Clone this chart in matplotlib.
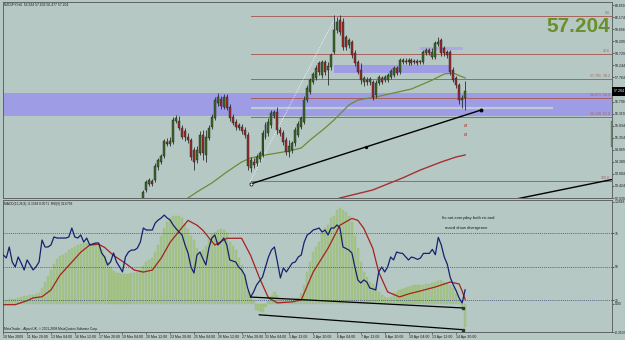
import numpy as np
import matplotlib
matplotlib.use("Agg")
import matplotlib.pyplot as plt
from matplotlib.patches import Rectangle

# ---------------- data ----------------
title_text = "NZDJPY,H4  56.934 57.636 56.477 57.204"
last_price = 57.204

candle_bars = list(range(47, 156))
opens = [52.86, 53.26, 53.50, 53.62, 53.66, 54.18, 54.38, 54.62, 55.18, 55.10,
         55.18, 56.02, 56.02, 55.74, 55.62, 55.38, 55.26, 54.86, 54.46, 54.74,
         55.46, 54.66, 55.34, 55.78, 56.14, 56.74, 56.90, 56.58, 56.98, 56.58,
         56.18, 55.98, 55.86, 55.78, 55.66, 55.46, 54.14, 54.38, 54.34, 54.50,
         54.66, 55.38, 55.54, 55.86, 56.22, 56.38, 55.66, 55.54, 55.26, 54.78,
         54.86, 55.14, 55.46, 55.78, 55.98, 56.86, 57.18, 57.58, 57.74, 58.34,
         57.86, 58.38, 58.06, 58.18, 58.78, 59.66, 60.06, 59.98, 59.38, 59.06,
         59.18, 58.74, 58.38, 58.06, 57.58, 57.66, 57.58, 57.58, 57.06, 57.54,
         57.74, 57.66, 57.66, 57.78, 57.86, 58.14, 57.98, 58.46, 58.42, 58.38,
         58.46, 58.38, 58.42, 58.38, 58.38, 58.74, 58.86, 58.58, 58.58, 59.10,
         59.26, 58.94, 58.78, 58.78, 58.06, 57.74, 57.46, 56.86, 56.934]
highs = [53.26, 53.66, 53.74, 53.70, 54.34, 54.54, 54.70, 55.30, 55.34, 55.38,
         56.18, 56.26, 56.22, 55.86, 55.74, 55.54, 55.34, 54.98, 55.02, 55.62,
         55.66, 55.66, 55.86, 56.30, 56.98, 57.14, 57.02, 57.10, 57.10, 56.70,
         56.30, 56.10, 55.94, 55.90, 55.78, 55.58, 54.58, 54.54, 54.70, 54.82,
         55.66, 55.98, 56.14, 56.46, 56.46, 56.58, 55.78, 55.66, 55.38, 55.26,
         55.22, 55.78, 56.02, 56.22, 57.02, 57.46, 57.74, 57.98, 58.26, 58.42,
         58.46, 58.46, 58.38, 58.74, 60.26, 60.18, 60.26, 60.14, 59.46, 59.34,
         59.26, 58.86, 58.46, 58.34, 57.82, 57.78, 57.78, 57.66, 57.66, 57.86,
         57.82, 57.86, 57.94, 58.10, 58.22, 58.22, 58.54, 58.54, 58.54, 58.54,
         58.54, 58.50, 58.50, 58.46, 58.86, 58.94, 58.94, 58.94, 59.22, 59.38,
         59.34, 59.02, 58.86, 58.86, 58.18, 57.82, 57.54, 57.06, 57.636]
lows = [52.74, 53.18, 53.42, 53.42, 53.58, 54.06, 54.30, 54.54, 55.02, 55.02,
        55.10, 55.94, 55.66, 55.30, 55.22, 55.14, 54.46, 54.06, 54.34, 54.66,
        54.46, 54.38, 55.26, 55.70, 56.06, 56.62, 56.50, 56.50, 56.46, 56.02,
        55.86, 55.66, 55.66, 55.50, 55.34, 54.06, 53.98, 54.14, 54.22, 54.38,
        54.58, 55.30, 55.42, 55.74, 56.14, 55.50, 55.42, 55.06, 54.66, 54.58,
        54.74, 55.02, 55.38, 55.70, 55.90, 56.78, 57.10, 57.50, 57.66, 57.86,
        57.74, 57.86, 57.46, 58.06, 58.70, 59.54, 59.46, 58.86, 58.86, 58.94,
        58.54, 58.22, 57.90, 57.50, 57.42, 57.46, 57.46, 56.86, 56.94, 57.46,
        57.50, 57.58, 57.58, 57.70, 57.78, 57.86, 57.90, 58.30, 58.30, 58.26,
        58.26, 58.30, 58.26, 58.30, 58.30, 58.66, 58.66, 58.50, 58.50, 59.02,
        58.62, 58.62, 58.54, 57.86, 57.58, 57.34, 56.70, 56.54, 56.477]
closes = [53.18, 53.58, 53.66, 53.50, 54.22, 54.46, 54.62, 55.22, 55.10, 55.22,
          56.06, 56.14, 55.74, 55.38, 55.38, 55.26, 54.58, 54.38, 54.86, 55.46,
          54.74, 55.38, 55.74, 56.18, 56.86, 56.98, 56.62, 56.98, 56.54, 56.14,
          55.94, 55.78, 55.74, 55.62, 55.46, 54.22, 54.46, 54.26, 54.58, 54.74,
          55.54, 55.86, 55.98, 56.34, 56.38, 55.66, 55.54, 55.18, 54.78, 55.02,
          55.14, 55.66, 55.90, 56.14, 56.86, 57.34, 57.66, 57.90, 58.14, 57.98,
          58.38, 57.98, 58.22, 58.66, 59.66, 59.98, 59.58, 58.98, 58.98, 59.26,
          58.66, 58.34, 57.98, 57.66, 57.74, 57.58, 57.70, 56.98, 57.54, 57.78,
          57.58, 57.78, 57.86, 58.02, 58.14, 57.94, 58.46, 58.38, 58.38, 58.46,
          58.34, 58.42, 58.34, 58.42, 58.78, 58.86, 58.74, 58.78, 59.14, 59.18,
          58.74, 58.74, 58.66, 57.98, 57.66, 57.46, 56.86, 56.94, 57.204]

ma_mid_bars = [55, 61, 65, 70, 75, 80, 83, 88, 96, 100, 103, 108, 111, 116, 119,
               125, 131, 137, 144, 148, 151, 155]
ma_mid_vals = [52.60, 52.86, 53.18, 53.54, 53.98, 54.38, 54.54, 54.66, 54.82, 54.94,
               55.26, 55.74, 56.06, 56.66, 56.86, 56.98, 57.14, 57.30, 57.66, 57.90,
               57.94, 57.74]
ma_long_bars = [110, 113, 124, 134, 140, 147, 152, 155]
ma_long_vals = [52.80, 52.94, 53.26, 53.74, 54.06, 54.38, 54.58, 54.66]

price_ticks = [60.659, 60.174, 59.694, 59.209, 58.729, 58.244, 57.764,
               56.799, 56.319, 55.834, 55.354, 54.869, 54.389, 53.904, 53.424, 52.939]

fib_levels = [60.22, 58.70, 57.70, 56.94, 56.18, 53.62]
fib_labels = ["0.0", "23.6", "57.791  38.2", "56.871  50.0", "56.190  61.8", "100.0"]
fib_anchor_bars = [83, 111.7]
fib_anchor_prices = [53.62, 60.22]

zone_main = (56.22, 57.14)
zone_a_bars, zone_a_prices = (111, 150), (57.94, 58.26)
zone_b_bars, zone_b_prices = (140, 154.4), (58.86, 58.98)
zone_line_bars, zone_line_price = (83, 184.6), 56.54

trend_a_bars, trend_a_prices = [83, 160.4], [53.50, 56.46]
trend_a_mid = (121.8, 54.98)
trend_b_bars, trend_b_prices = [170.5, 206], [52.86, 53.72]
signal_marks_bar, signal_marks_prices = 155, [55.86, 55.50]

hist = [0.05, 0.05, 0.06, 0.06, 0.06, 0.08, 0.09, 0.10, 0.10, 0.11,
        0.11, 0.12, 0.14, 0.20, 0.28, 0.35, 0.43, 0.50, 0.56, 0.60,
        0.62, 0.64, 0.68, 0.70, 0.71, 0.74, 0.75, 0.76, 0.76, 0.76,
        0.76, 0.75, 0.73, 0.68, 0.60, 0.53, 0.46, 0.41, 0.39, 0.385,
        0.38, 0.38, 0.38, 0.39, 0.39, 0.40, 0.43, 0.48, 0.53, 0.55,
        0.58, 0.65, 0.74, 0.85, 0.95, 1.03, 1.08, 1.11, 1.11, 1.11,
        1.08, 1.01, 0.94, 0.86, 0.80, 0.70, 0.65, 0.68, 0.73, 0.81,
        0.88, 0.90, 0.93, 0.94, 0.93, 0.89, 0.78, 0.73, 0.68, 0.58,
        0.49, 0.36, 0.16, 0.09, 0.03, -0.08, -0.09, -0.10, -0.04, 0.03,
        0.10, 0.15, 0.11, 0.08, 0.05, 0.03, 0.03, 0.03, 0.03, 0.08,
        0.14, 0.24, 0.40, 0.53, 0.65, 0.72, 0.78, 0.89, 0.95, 0.99,
        1.08, 1.11, 1.18, 1.21, 1.18, 1.15, 1.11, 1.03, 0.86, 0.70,
        0.53, 0.40, 0.34, 0.28, 0.25, 0.21, 0.15, 0.11, 0.09, 0.08,
        0.09, 0.14, 0.15, 0.18, 0.19, 0.20, 0.21, 0.23, 0.24, 0.24,
        0.24, 0.24, 0.25, 0.25, 0.26, 0.28, 0.29, 0.30, 0.28, 0.26,
        0.24, 0.20, 0.12, 0.05, -0.05, -0.29]

rsi = [58.8, 56.6, 64.8, 53.6, 49.8, 57.3, 52.8, 47.6, 55.1, 51.3,
       47.6, 50.0, 53.6, 70.0, 64.8, 64.8, 66.3, 72.3, 71.5, 71.5,
       71.5, 71.5, 72.3, 79.0, 72.3, 71.5, 73.8, 68.5, 71.5, 66.3,
       67.0, 67.8, 67.8, 60.3, 57.3, 51.3, 53.6, 60.3, 53.6, 50.0,
       46.1, 57.3, 61.0, 62.5, 62.5, 64.0, 68.5, 79.0, 77.5, 77.5,
       77.5, 82.8, 85.0, 86.5, 88.7, 86.5, 85.0, 81.3, 78.5, 76.0,
       73.8, 66.3, 60.3, 49.8, 45.3, 58.8, 61.0, 56.0, 51.3, 64.0,
       71.5, 73.8, 66.3, 68.5, 71.5, 66.3, 55.1, 54.3, 53.6, 49.8,
       47.6, 43.8, 34.1, 27.3, 31.1, 36.3, 39.3, 42.3, 49.8, 57.3,
       62.5, 64.8, 53.6, 41.6, 49.1, 46.1, 49.5, 52.8, 53.6, 57.3,
       58.8, 68.5, 73.8, 75.3, 77.5, 78.2, 79.0, 76.0, 77.5, 73.8,
       79.0, 79.0, 81.3, 79.0, 64.8, 63.7, 62.5, 60.3, 49.8, 40.1,
       37.8, 40.1, 38.6, 34.1, 33.4, 32.6, 46.1, 49.8, 46.1, 49.8,
       57.3, 55.1, 61.0, 60.3, 60.0, 57.5, 55.1, 57.3, 56.6, 55.5,
       56.5, 60.0, 60.0, 60.0, 63.0, 59.0, 72.0, 66.3, 57.3, 52.0,
       42.0, 36.5, 32.0, 26.5, 22.8, 32.7]

sig_bars = [0, 4, 8, 10, 13, 16, 19, 23, 26, 29, 32, 34, 37, 41, 44, 47, 50, 53, 56, 60,
            62, 65, 67, 71, 75, 80, 83, 86, 89, 92, 97, 100, 104, 109, 113, 117, 119, 121,
            124, 126, 129, 133, 136, 140, 145, 150, 153, 154, 155]
sig_vals = [-0.01, -0.01, 0.04, 0.075, 0.09, 0.175, 0.36, 0.525, 0.65, 0.74, 0.75, 0.71,
            0.61, 0.51, 0.425, 0.40, 0.425, 0.575, 0.775, 0.96, 1.05, 0.99, 0.925, 0.74,
            0.825, 0.825, 0.61, 0.325, 0.075, 0.0125, 0.025, 0.05, 0.40, 0.70, 0.99, 1.075,
            1.05, 0.95, 0.70, 0.40, 0.15, 0.0875, 0.125, 0.1625, 0.2125, 0.275, 0.25,
            0.1625, 0.057]

rsi_div_bars, rsi_div_vals = [83, 154.4], [27.3, 19.1]
macd_div_bars, macd_div_vals = [85.9, 154.4], [-0.1375, -0.325]

date_bars = list(range(0, 153, 8))
date_labels = ["10 Mar 2009", "11 Mar 20:00", "13 Mar 04:00", "16 Mar 12:00", "17 Mar 20:00",
               "19 Mar 04:00", "20 Mar 12:00", "23 Mar 20:00", "25 Mar 04:00", "26 Mar 12:00",
               "27 Mar 20:00", "31 Mar 04:00", "1 Apr 12:00", "2 Apr 20:00", "6 Apr 04:00",
               "7 Apr 12:00", "8 Apr 20:00", "10 Apr 04:00", "13 Apr 12:00", "14 Apr 20:00"]

macd_header = "MACD(12,26,9) -0.1588 0.0571  RSI(9) 32.6799"
note_lines = ["Its not everyday both rsi and", "macd show divergence"]
footer = "MetaTrader - Alpari UK, \u00a9 2001-2008 MetaQuotes Software Corp."

# ---------------- style ----------------
W, H = 625, 340
BG = '#b5c8c4'
BAND = '#9f9ce6'
FIB = '#a8625e'
BULL = '#3b6a25'
BEAR = '#9e2a2a'
OLIVE = '#6e8b35'
DARK = '#1a1a1a'
FRAME = '#5f6463'
SMALL = ['Liberation Sans', 'DejaVu Sans']

plt.rcParams['font.family'] = SMALL

fig = plt.figure(figsize=(W / 100, H / 100), dpi=100)
fig.patch.set_facecolor(BG)


def fig_rect(x0, y0, x1, y1):
    return [x0 / W, 1 - y1 / H, (x1 - x0) / W, (y1 - y0) / H]


xlim = (-0.1, 204.3)

ax = fig.add_axes(fig_rect(3, 2, 612, 198))
ax.set_facecolor(BG)
ax.set_xlim(*xlim)
ax.set_ylim(52.94, 60.78)

# zones
ax.axhspan(zone_main[0], zone_main[1], color=BAND, zorder=1, lw=0)
ax.add_patch(Rectangle((zone_a_bars[0], zone_a_prices[0]), zone_a_bars[1] - zone_a_bars[0],
                       zone_a_prices[1] - zone_a_prices[0], color=BAND, lw=0, zorder=1))
ax.add_patch(Rectangle((zone_b_bars[0], zone_b_prices[0]), zone_b_bars[1] - zone_b_bars[0],
                       zone_b_prices[1] - zone_b_prices[0], color='#aca8ea', lw=0, zorder=1))
ax.plot(zone_line_bars, [zone_line_price] * 2, color='#bccbd6', lw=1.6, zorder=2,
        solid_capstyle='butt')

# fib
for lv, lb in zip(fib_levels, fib_labels):
    ax.plot([fib_anchor_bars[0], xlim[1] + 1], [lv, lv], color=FIB, lw=0.7, zorder=2)
    ax.text(203.5, lv + 0.04, lb, ha='right', va='bottom', fontsize=2.6, color=FIB, zorder=3)
ax.plot(fib_anchor_bars, fib_anchor_prices, color='white', lw=0.6, ls=(0, (1, 1.5)), zorder=2)

# moving averages
ax.plot(ma_mid_bars, ma_mid_vals, color=OLIVE, lw=0.9, zorder=3)
ax.plot(ma_long_bars, ma_long_vals, color='#a83030', lw=1.0, zorder=3)

# candles
for b, o, h, l, c in zip(candle_bars, opens, highs, lows, closes):
    col = BULL if c >= o else BEAR
    ax.plot([b, b], [l, h], color='#2d2d2d', lw=0.6, zorder=4, solid_capstyle='butt')
    lo, hi = min(o, c), max(o, c)
    hi = max(hi, lo + 0.03)
    ax.add_patch(Rectangle((b - 0.33, lo), 0.66, hi - lo, facecolor=col,
                           edgecolor='#202020', lw=0.3, zorder=5))

# trend lines
ax.plot(trend_a_bars, trend_a_prices, color='black', lw=1.0, zorder=6)
ax.plot(trend_a_bars[0], trend_a_prices[0], 'o', ms=2.2, mfc='white', mec='black', mew=0.5, zorder=7)
ax.plot(trend_a_bars[1], trend_a_prices[1], 'o', ms=1.8, color='black', zorder=7)
ax.plot(trend_a_mid[0], trend_a_mid[1], 'o', ms=1.4, color='black', zorder=7)
ax.plot(trend_b_bars, trend_b_prices, color='black', lw=1.0, zorder=6)
for p in signal_marks_prices:
    ax.text(signal_marks_bar, p, "\u00f8", color='#c04040', fontsize=4, ha='center', va='center',
            zorder=7, family='DejaVu Sans')
ax.plot([204, 204], [55.02, 56.02], color=OLIVE, lw=1.0, zorder=3)

ax.yaxis.tick_right()
ax.set_yticks(price_ticks)
ax.set_yticklabels([f"{t:.3f}" for t in price_ticks])
ax.tick_params(axis='y', labelsize=2.5, length=1.5, width=0.4, pad=0.5, colors=DARK)
ax.set_xticks([])
for s in ax.spines.values():
    s.set_color(FRAME)
    s.set_linewidth(0.7)

# ---------------- indicator panel ----------------
ax2 = fig.add_axes(fig_rect(3, 200, 612, 332))
ax2.set_facecolor(BG)
ax2.set_xlim(*xlim)
ax2.set_ylim(-0.3537, 1.3065)
ax3 = ax2.twinx()
ax3.set_ylim(1.1, 100)
ax3.set_xlim(*xlim)

bars_all = np.arange(len(hist))
ax2.bar(bars_all, hist, width=0.72, color='#a4c386', edgecolor='#97b878', lw=0.2, zorder=2)
ax2.plot(sig_bars, sig_vals, color='#a5221e', lw=0.9, zorder=4)
ax2.plot(macd_div_bars, macd_div_vals, color='black', lw=0.9, zorder=5)
ax2.plot(macd_div_bars[1], macd_div_vals[1], 's', ms=1.6, color='#333333', zorder=6)
ax2.yaxis.tick_right()
ax2.set_yticks([1.2818, 0.0, -0.3537])
ax2.set_yticklabels(["1.2818", "0.00", "-0.3537"])
ax2.tick_params(axis='y', labelsize=2.4, length=1.5, width=0.4, pad=0.5, colors=DARK,
                left=False, labelleft=False, right=True, labelright=True)
ax2.set_xticks(date_bars)
ax2.set_xticklabels(date_labels, ha='left')
ax2.tick_params(axis='x', labelsize=2.5, length=1.5, width=0.4, pad=0.8, colors=DARK)
for s in ax2.spines.values():
    s.set_color(FRAME)
    s.set_linewidth(0.7)

for lv in (75, 50, 25):
    ax3.axhline(lv, color='#3c4a78', lw=0.6, ls=(0, (1, 1.3)), zorder=1)
ax3.plot(bars_all, rsi, color='#18206e', lw=0.9, zorder=3)
ax3.plot(rsi_div_bars, rsi_div_vals, color='black', lw=0.9, zorder=5)
ax3.plot(rsi_div_bars[1], rsi_div_vals[1], 's', ms=1.6, color='#333333', zorder=6)
ax3.set_yticks([75, 50, 25])
ax3.set_yticklabels(["75", "50", "25"])
ax3.tick_params(axis='y', labelsize=2.4, length=1.5, width=0.4, pad=0.5, colors=DARK)
for s in ax3.spines.values():
    s.set_visible(False)

# ---------------- texts ----------------
def ftext(px, py, s, **kw):
    fig.text(px / W, 1 - py / H, s, **kw)

ftext(4, 4.5, title_text, fontsize=2.4, color=DARK, va='center')
ftext(4, 203.5, macd_header, fontsize=2.3, color=DARK, va='center')
ftext(468, 218, note_lines[0], fontsize=3.1, color=DARK, ha='center', va='center')
ftext(466, 228.5, note_lines[1], fontsize=3.1, color=DARK, ha='center', va='center')
ftext(4, 329, footer, fontsize=2.3, color=DARK, va='center')
ftext(610, 27, f"{last_price:.3f}", fontsize=15, weight='bold', color='#6b8f2a',
      ha='right', va='center')

fig.patches.append(Rectangle((612 / W, 1 - 95.5 / H), 13 / W, 8 / H, transform=fig.transFigure,
                             facecolor='black', edgecolor='none', zorder=10))
ftext(613.5, 91.5, f"{last_price:.3f}", fontsize=2.5, color='white', va='center', zorder=11)

fig.savefig("out.png", dpi=100, facecolor=BG)
